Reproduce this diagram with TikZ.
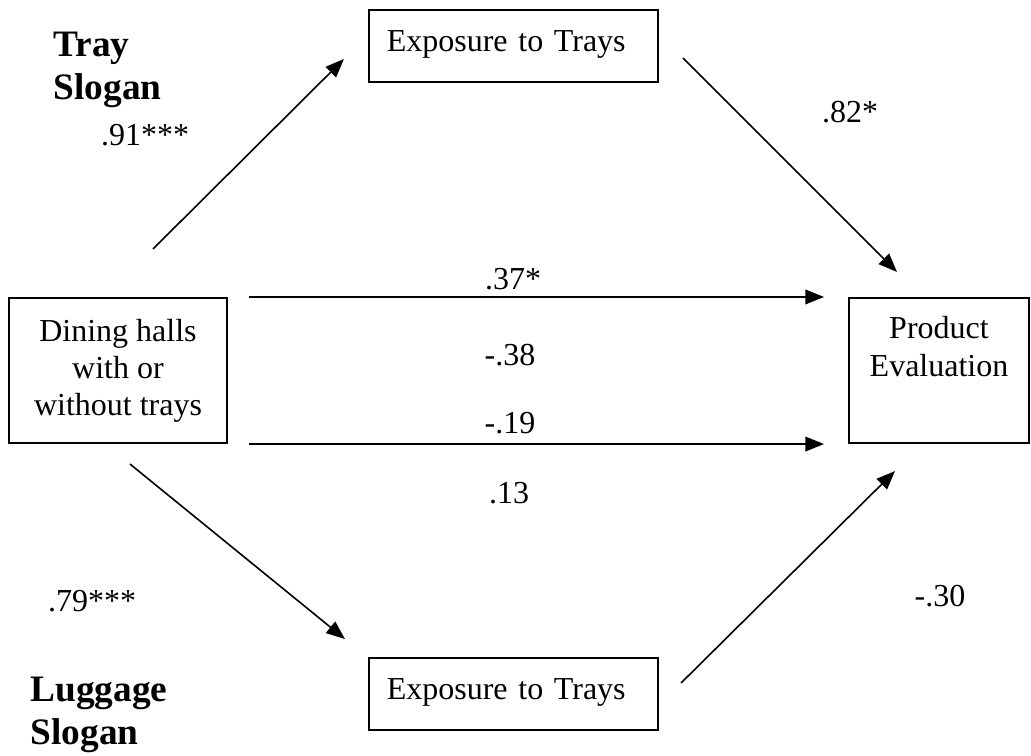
\documentclass[tikz,border=0pt]{standalone}
\usepackage{fontspec}
\setmainfont{Liberation Serif}
\usetikzlibrary{arrows.meta, positioning}

\begin{document}
\begin{tikzpicture}[x=0.375pt, y=-0.375pt,
    box/.style={draw, line width=0.75pt, font=\fontsize{12}{13.9}\selectfont},
    expbox/.style={box, text width=95pt, inner xsep=6.7pt, align=left, minimum height=27pt, text height=8pt, text depth=4pt},
    arr/.style={-{Triangle[length=7pt, width=5.5pt]}, line width=0.6pt},
    coef/.style={font=\fontsize{12}{14}\selectfont, anchor=base, inner sep=0pt},
    slogan/.style={font=\fontsize{14}{15.8}\selectfont\bfseries, align=left, anchor=base west, inner sep=0pt}]
    \useasboundingbox (0,0) rectangle (1031,755);

    \node[box, minimum width=81.75pt, minimum height=54.4pt, align=center] (dining) at (118,370.5) {Dining halls\\with or\\without trays};
    \node[box, minimum width=67.5pt, minimum height=54.4pt, align=center] (eval) at (939,370.5) {Product\\Evaluation\\\strut};
    \node[expbox] (trayexp) at (513.5,46) {Exposure to Trays};
    \node[expbox] (lugexp) at (513.5,694) {Exposure to Trays};

    \node[slogan] (trayslogan) at (53,99) {Tray\\Slogan};
    \node[slogan] (lugslogan) at (30,744) {Luggage\\Slogan};

    \draw[arr] ([shift={(35,-48)}]dining.north) -- ([shift={(-24,13)}]trayexp.west);
    \draw[arr] ([shift={(24,12)}]trayexp.east) -- ([shift={(-42,-25)}]eval.north);
    \draw[arr] ([shift={(12,20)}]dining.south) -- ([shift={(-23,-18)}]lugexp.north west);
    \draw[arr] ([shift={(22,-11)}]lugexp.east) -- ([shift={(-44,27)}]eval.south);
    \draw[arr, shorten <=7.9pt, shorten >=9pt] (dining.north east) -- (eval.north west);
    \draw[arr, shorten <=7.9pt, shorten >=9pt] (dining.south east) -- (eval.south west);

    \node[coef] (c91) at (145,145) {.91***};
    \node[coef] (c82) at (850,122) {.82*};
    \node[coef] (c37) at (513,289) {.37*};
    \node[coef] (c38) at (510,365) {-.38};
    \node[coef] (c19) at (510,433) {-.19};
    \node[coef] (c13) at (509,503) {.13};
    \node[coef] (c79) at (92,611) {.79***};
    \node[coef] (c30) at (940,606) {-.30};
\end{tikzpicture}
\end{document}
